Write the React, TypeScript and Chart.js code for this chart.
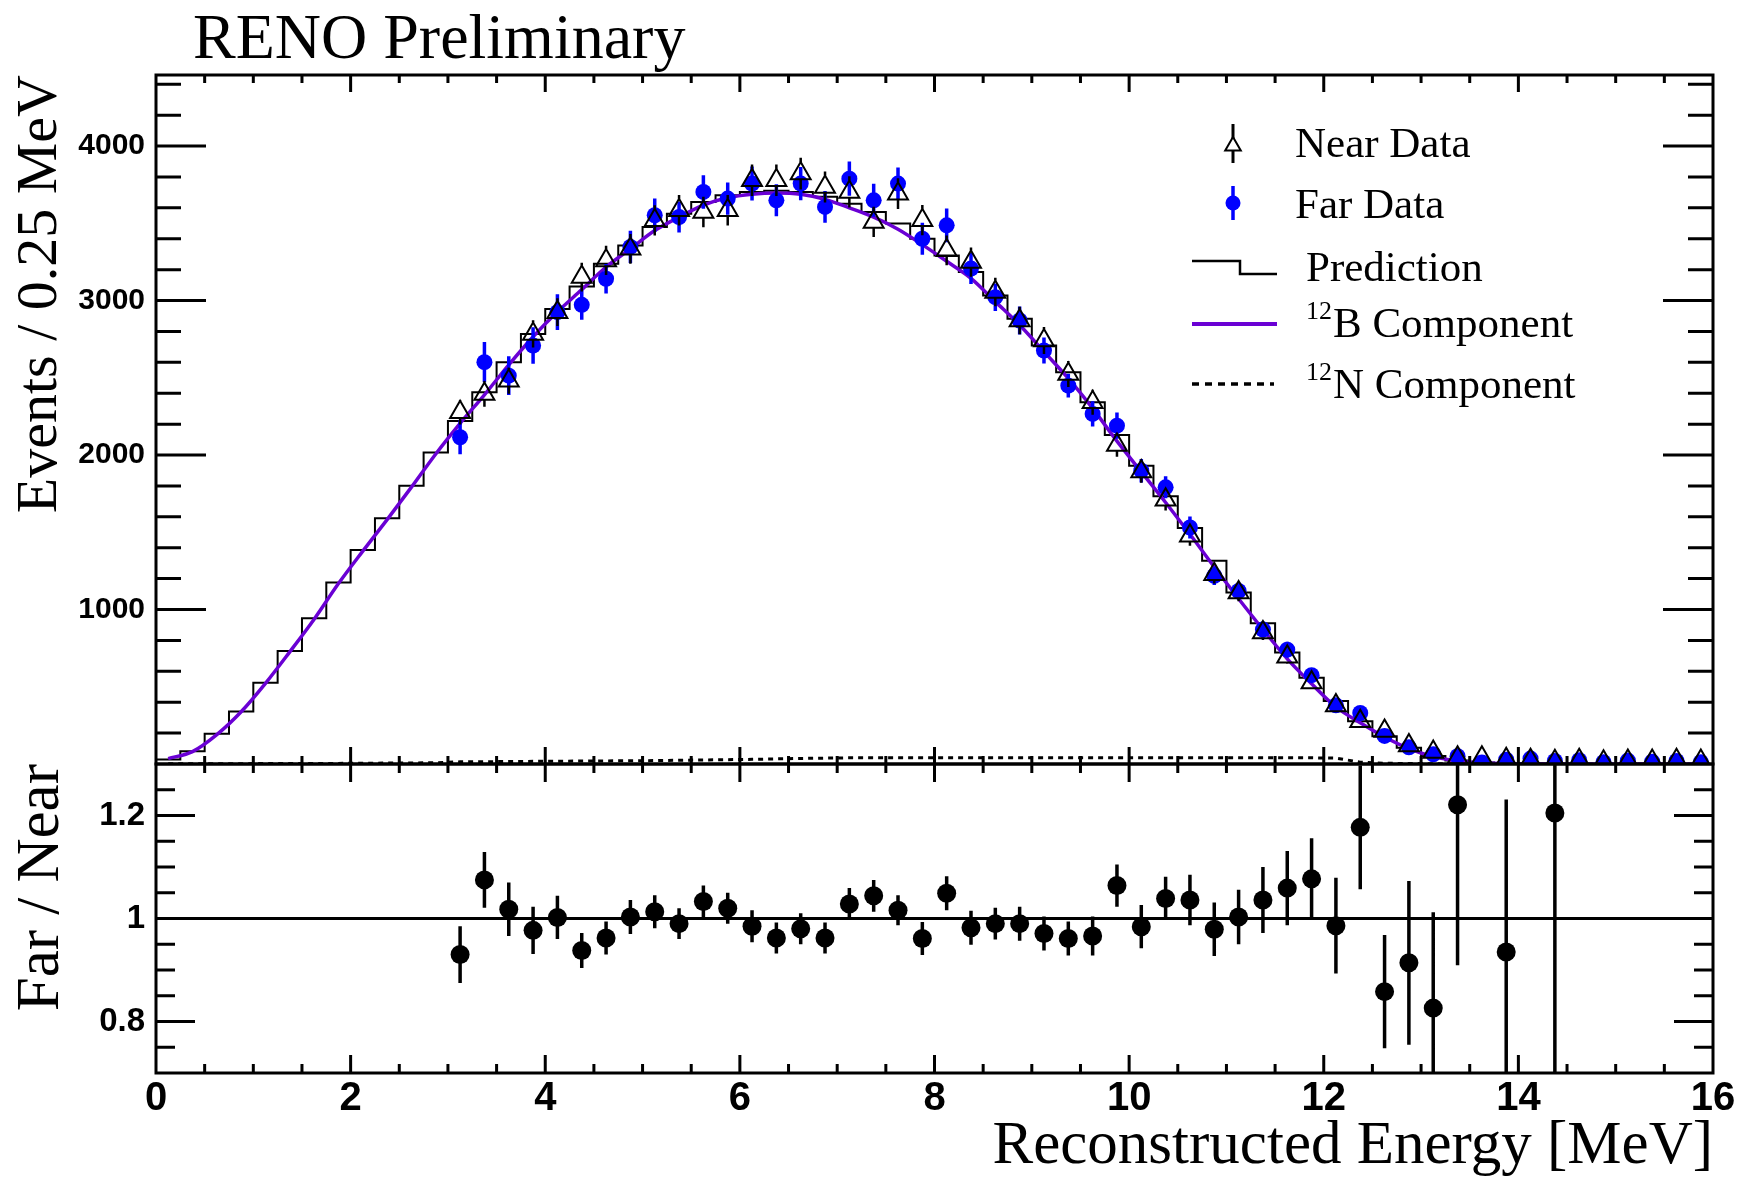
import React, { useEffect, useRef } from 'react';
import { Chart, registerables } from 'chart.js';

Chart.register(...registerables);

// ---------------- data ----------------
const binCenters = [
  0.125, 0.375, 0.625, 0.875, 1.125, 1.375, 1.625, 1.875,
  2.125, 2.375, 2.625, 2.875, 3.125, 3.375, 3.625, 3.875,
  4.125, 4.375, 4.625, 4.875, 5.125, 5.375, 5.625, 5.875,
  6.125, 6.375, 6.625, 6.875, 7.125, 7.375, 7.625, 7.875,
  8.125, 8.375, 8.625, 8.875, 9.125, 9.375, 9.625, 9.875,
  10.125, 10.375, 10.625, 10.875, 11.125, 11.375, 11.625, 11.875,
  12.125, 12.375, 12.625, 12.875, 13.125, 13.375, 13.625, 13.875,
  14.125, 14.375, 14.625, 14.875, 15.125, 15.375, 15.625, 15.875,
];
const binHalfWidth = 0.125;
const energyMax = 16;

const predictionCounts = [
  29, 83, 196, 340, 526, 731, 943, 1175,
  1386, 1590, 1801, 2017, 2220, 2406, 2601, 2784,
  2946, 3091, 3238, 3357, 3476, 3562, 3638, 3681,
  3703, 3710, 3703, 3672, 3627, 3573, 3498, 3400,
  3292, 3184, 3033, 2882, 2709, 2536, 2342, 2130,
  1931, 1733, 1527, 1315, 1110, 911, 721, 559,
  407, 277, 180, 105, 51, 22, 10, 5,
  2, 1, 0, 0, 0, 0, 0, 0,
];

const b12Component = [
  35, 80, 190, 338, 522, 726, 937, 1168,
  1378, 1582, 1792, 2007, 2205, 2390, 2584, 2766,
  2927, 3071, 3217, 3335, 3453, 3540, 3618, 3665,
  3688, 3696, 3688, 3655, 3600, 3540, 3462, 3362,
  3254, 3144, 2993, 2842, 2669, 2496, 2302, 2090,
  1891, 1693, 1487, 1275, 1070, 871, 681, 519,
  369, 267, 175, 100, 48, 20, 8, 3,
  1, 0, 0, 0, 0, 0, 0, 0,
];

const n12Component = [
  1, 1, 2, 2, 3, 3, 4, 4, 5, 6, 7, 8,
  14, 15, 16, 17, 18, 19, 20, 21, 22, 24, 26, 28,
  30, 33, 36, 38, 40, 40, 40, 40, 40, 40, 40, 40,
  40, 40, 40, 40, 40, 40, 40, 40, 40, 40, 40, 40,
  38, 12, 5, 3, 2, 1, 1, 0, 0, 0, 0, 0, 0, 0, 0, 0,
];

const dataCenters = [
  3.125, 3.375, 3.625, 3.875, 4.125, 4.375, 4.625, 4.875,
  5.125, 5.375, 5.625, 5.875, 6.125, 6.375, 6.625, 6.875,
  7.125, 7.375, 7.625, 7.875, 8.125, 8.375, 8.625, 8.875,
  9.125, 9.375, 9.625, 9.875, 10.125, 10.375, 10.625, 10.875,
  11.125, 11.375, 11.625, 11.875, 12.125, 12.375, 12.625, 12.875,
  13.125, 13.375, 13.625, 13.875, 14.125, 14.375, 14.625, 14.875,
  15.125, 15.375, 15.625, 15.875,
];

const nearData = [
  2277, 2395, 2481, 2784, 2925, 3152, 3260, 3335,
  3519, 3584, 3573, 3584, 3778, 3778, 3822, 3735,
  3703, 3509, 3692, 3520, 3325, 3249, 3055, 2871,
  2741, 2525, 2342, 2065, 1893, 1710, 1477, 1228,
  1110, 851, 695, 527, 379, 277, 213, 120,
  77, 40, 40, 30, 25, 17, 25, 15,
  20, 20, 25, 20,
];
const nearErr = [
  80, 82, 84, 88, 90, 93, 95, 96,
  98, 99, 99, 99, 102, 102, 103, 101,
  101, 98, 100, 98, 96, 95, 92, 89,
  87, 84, 81, 76, 73, 69, 64, 59,
  56, 49, 44, 38, 32, 28, 24, 18,
  15, 11, 11, 9, 8, 7, 8, 6,
  7, 7, 8, 7,
];

const farData = [
  2115, 2601, 2514, 2709, 2925, 2972, 3141, 3347,
  3552, 3541, 3703, 3660, 3757, 3649, 3757, 3606,
  3789, 3649, 3757, 3400, 3487, 3207, 3022, 2871,
  2676, 2449, 2266, 2190, 1899, 1791, 1531, 1218,
  1120, 870, 740, 575, 380, 330, 182, 108,
  63, 50, 10, 28, 35, 20, 25, 12,
  22, 15, 20, 12,
];
const farErr = [
  110, 130, 125, 118, 115, 96, 95, 104,
  108, 100, 108, 104, 110, 104, 107, 103,
  111, 107, 104, 103, 109, 100, 89, 90,
  84, 77, 82, 85, 76, 71, 71, 60,
  57, 52, 51, 44, 34, 38, 19, 16,
  12, 11, 6, 9, 9, 7, 8, 5,
  7, 6, 7, 5,
];

const ratioCenters = [
  3.125, 3.375, 3.625, 3.875, 4.125, 4.375, 4.625, 4.875,
  5.125, 5.375, 5.625, 5.875, 6.125, 6.375, 6.625, 6.875,
  7.125, 7.375, 7.625, 7.875, 8.125, 8.375, 8.625, 8.875,
  9.125, 9.375, 9.625, 9.875, 10.125, 10.375, 10.625, 10.875,
  11.125, 11.375, 11.625, 11.875, 12.125, 12.375, 12.625, 12.875,
  13.125, 13.375, 13.625, 13.875, 14.125, 14.375,
];
const ratioValues: (number | null)[] = [
  0.930, 1.075, 1.018, 0.977, 1.002, 0.938, 0.962, 1.003,
  1.013, 0.990, 1.033, 1.020, 0.985, 0.962, 0.980, 0.962,
  1.028, 1.044, 1.016, 0.961, 1.049, 0.982, 0.990, 0.990,
  0.971, 0.961, 0.966, 1.064, 0.984, 1.039, 1.036, 0.979,
  1.003, 1.036, 1.059, 1.077, 0.986, 1.177, 0.858, 0.914,
  0.826, 1.221, null, 0.935, null, 1.205,
];
const ratioErr: (number | null)[] = [
  0.055, 0.054, 0.052, 0.046, 0.042, 0.034, 0.032, 0.033,
  0.032, 0.030, 0.031, 0.030, 0.031, 0.030, 0.030, 0.030,
  0.031, 0.031, 0.029, 0.032, 0.033, 0.033, 0.031, 0.033,
  0.033, 0.033, 0.038, 0.041, 0.042, 0.042, 0.049, 0.052,
  0.053, 0.064, 0.072, 0.079, 0.093, 0.120, 0.110, 0.159,
  0.186, 0.312, null, 0.296, null, 0.550,
];

const unityX = [0, 16];
const unityY = [1, 1];

const energyTicks = [0, 2, 4, 6, 8, 10, 12, 14, 16];
const countTicks = [1000, 2000, 3000, 4000];
const ratioTicks = [0.8, 1.0, 1.2];

const titleText = 'RENO Preliminary';
const yTitleTop = 'Events / 0.25 MeV';
const yTitleBottom = 'Far / Near';
const xTitle = 'Reconstructed Energy [MeV]';
const legendNear = 'Near Data';
const legendFar = 'Far Data';
const legendPred = 'Prediction';
const legendB = ['12', 'B Component'];
const legendN = ['12', 'N Component'];

// ---------------- styles ----------------
const SERIF = "'Liberation Serif', 'Times New Roman', serif";
const SANS = "'Liberation Sans', Arial, sans-serif";
const PURPLE = '#6a00d4';
const BLUE = '#0000ff';

// ---------------- plugins ----------------
const errorBarPlugin = {
  id: 'errorBars',
  beforeDatasetDraw(chart: any, args: any) {
    const ds: any = chart.data.datasets[args.index];
    if (!ds.errorBar) return;
    const meta = args.meta;
    const ys = chart.scales[meta.yAxisID];
    const { ctx, chartArea } = chart;
    ctx.save();
    ctx.beginPath();
    ctx.rect(chartArea.left, chartArea.top, chartArea.right - chartArea.left, chartArea.bottom - chartArea.top);
    ctx.clip();
    ctx.strokeStyle = ds.errorBar.color;
    ctx.lineWidth = ds.errorBar.width;
    ctx.beginPath();
    ds.data.forEach((p: any, i: number) => {
      const el = meta.data[i];
      if (!el || p.y == null || p.e == null) return;
      const x = el.x;
      const yc = ys.getPixelForValue(p.y);
      const yt = ys.getPixelForValue(p.y + p.e);
      const yb = ys.getPixelForValue(p.y - p.e);
      const gt = ds.errorBar.gapTop || 0;
      const gb = ds.errorBar.gapBottom || 0;
      if (yc - gt > yt) { ctx.moveTo(x, yt); ctx.lineTo(x, yc - gt); }
      if (yc + gb < yb) { ctx.moveTo(x, yc + gb); ctx.lineTo(x, yb); }
    });
    ctx.stroke();
    ctx.restore();
  },
};

function makeFramePlugin(o: any) {
  return {
    id: 'rootFrame',
    afterDatasetsDraw(chart: any) {
      const { ctx, chartArea, scales } = chart;
      const { left, right, top, bottom } = chartArea;
      const xs = scales.x;
      const ys = scales.y;
      ctx.save();
      ctx.strokeStyle = '#000';
      ctx.lineWidth = 3;
      ctx.lineCap = 'butt';
      ctx.beginPath();
      const nx = Math.round((xs.max - xs.min) / o.xStep);
      for (let k = 1; k < nx; k++) {
        const v = xs.min + k * o.xStep;
        const major = k % o.xEvery === 0;
        const px = xs.getPixelForValue(v);
        const lb = major ? o.xBottomMajor : o.xBottomMinor;
        const lt = major ? o.xTopMajor : o.xTopMinor;
        ctx.moveTo(px, bottom); ctx.lineTo(px, bottom - lb);
        ctx.moveTo(px, top); ctx.lineTo(px, top + lt);
      }
      const ny = Math.floor((ys.max - o.yStart) / o.yStep + 1e-6);
      for (let k = 0; k <= ny; k++) {
        const v = o.yStart + k * o.yStep;
        if (v <= ys.min + 1e-9 || v >= ys.max - 1e-9) continue;
        const n = Math.round((v - o.yOrigin) / o.yStep);
        const major = ((n % o.yEvery) + o.yEvery) % o.yEvery === 0;
        const py = ys.getPixelForValue(v);
        const l = major ? o.yMajor : o.yMinor;
        ctx.moveTo(left, py); ctx.lineTo(left + l, py);
        ctx.moveTo(right, py); ctx.lineTo(right - l, py);
      }
      ctx.stroke();
      ctx.strokeRect(left, top, right - left, bottom - top);
      ctx.restore();
    },
  };
}

function drawIsotope(ctx: CanvasRenderingContext2D, parts: string[], x: number, y: number) {
  ctx.font = `26px ${SERIF}`;
  ctx.fillText(parts[0], x, y - 18);
  const w = ctx.measureText(parts[0]).width;
  ctx.font = `43px ${SERIF}`;
  ctx.fillText(parts[1], x + w + 1, y);
}

const textPlugin = {
  id: 'renoText',
  afterDraw(chart: any) {
    const ctx: CanvasRenderingContext2D = chart.ctx;
    ctx.save();
    ctx.fillStyle = '#000';
    ctx.textAlign = 'left';
    ctx.textBaseline = 'alphabetic';
    ctx.font = `64px ${SERIF}`;
    ctx.fillText(titleText, 193, 58);

    ctx.font = `43px ${SERIF}`;
    ctx.fillText(legendNear, 1295, 157);
    ctx.fillText(legendFar, 1295, 218);
    ctx.fillText(legendPred, 1306, 281);
    drawIsotope(ctx, legendB, 1306, 337);
    drawIsotope(ctx, legendN, 1306, 398);

    // Near icon
    ctx.strokeStyle = '#000';
    ctx.lineWidth = 3;
    ctx.beginPath();
    ctx.moveTo(1233, 124); ctx.lineTo(1233, 163);
    ctx.stroke();
    const r = 9;
    const cx = 1233, cy = 146;
    ctx.beginPath();
    ctx.moveTo(cx, cy - r);
    ctx.lineTo(cx + r * 0.866, cy + r / 2);
    ctx.lineTo(cx - r * 0.866, cy + r / 2);
    ctx.closePath();
    ctx.fillStyle = '#fff';
    ctx.fill();
    ctx.lineWidth = 2;
    ctx.stroke();

    // Far icon
    ctx.strokeStyle = BLUE;
    ctx.fillStyle = BLUE;
    ctx.lineWidth = 3.5;
    ctx.beginPath();
    ctx.moveTo(1233, 186); ctx.lineTo(1233, 220);
    ctx.stroke();
    ctx.beginPath();
    ctx.arc(1233, 203, 7.5, 0, Math.PI * 2);
    ctx.fill();

    // Prediction icon
    ctx.strokeStyle = '#000';
    ctx.lineWidth = 2.5;
    ctx.beginPath();
    ctx.moveTo(1192, 261); ctx.lineTo(1240, 261); ctx.lineTo(1240, 274); ctx.lineTo(1277, 274);
    ctx.stroke();

    // 12B icon
    ctx.strokeStyle = PURPLE;
    ctx.lineWidth = 4;
    ctx.beginPath();
    ctx.moveTo(1192, 324); ctx.lineTo(1277, 324);
    ctx.stroke();

    // 12N icon
    ctx.strokeStyle = '#000';
    ctx.lineWidth = 3.5;
    ctx.setLineDash([7, 6]);
    ctx.beginPath();
    ctx.moveTo(1192, 384); ctx.lineTo(1274, 384);
    ctx.stroke();
    ctx.setLineDash([]);
    ctx.restore();
  },
};

const fixVertical = (w: number) => (s: any) => {
  s.width = w;
  s.paddingTop = 0;
  s.paddingBottom = 0;
};
const fixHorizontal = (h: number) => (s: any) => {
  s.height = h;
  s.paddingLeft = 0;
  s.paddingRight = 0;
};

// ---------------- configs ----------------
function buildTopConfig(): any {
  const predPoints = binCenters.map((c, i) => ({ x: c - binHalfWidth, y: predictionCounts[i] }));
  predPoints.push({ x: energyMax, y: predictionCounts[predictionCounts.length - 1] });
  const b12Points = binCenters.map((c, i) => ({ x: c, y: b12Component[i] }));
  const n12Points = binCenters.map((c, i) => ({ x: c, y: n12Component[i] }));
  const nearPoints = dataCenters.map((c, i) => ({ x: c, y: nearData[i], e: nearErr[i] }));
  const farPoints = dataCenters.map((c, i) => ({ x: c, y: farData[i], e: farErr[i] }));
  const triR = 11.5;
  return {
    type: 'line',
    data: {
      datasets: [
        {
          label: legendNear, data: nearPoints, showLine: false,
          pointStyle: 'triangle', pointRadius: triR, pointBorderWidth: 2,
          pointBorderColor: '#000', pointBackgroundColor: 'rgba(0,0,0,0)',
          order: 0, errorBar: { color: '#000', width: 2.5, gapTop: triR, gapBottom: triR / 2 },
        },
        {
          label: legendFar, data: farPoints, showLine: false,
          pointStyle: 'circle', pointRadius: 8, pointBorderWidth: 0,
          pointBackgroundColor: BLUE, pointBorderColor: BLUE,
          order: 1, errorBar: { color: BLUE, width: 3.5 },
        },
        {
          label: '12B Component', data: b12Points, borderColor: PURPLE, borderWidth: 3.5,
          pointRadius: 0, cubicInterpolationMode: 'monotone', fill: false, order: 2,
        },
        {
          label: '12N Component', data: n12Points, borderColor: '#000', borderWidth: 3,
          borderDash: [5, 5], pointRadius: 0, fill: false, order: 3,
        },
        {
          label: legendPred, data: predPoints, borderColor: '#000', borderWidth: 2,
          stepped: 'before', pointRadius: 0, fill: false, order: 4,
        },
      ],
    },
    options: {
      animation: false,
      responsive: false,
      devicePixelRatio: 1,
      events: [],
      layout: { autoPadding: false, padding: { left: 0, right: 37, top: 75, bottom: 2 } },
      plugins: { legend: { display: false }, tooltip: { enabled: false }, title: { display: false } },
      scales: {
        x: {
          type: 'linear', min: 0, max: energyMax,
          afterBuildTicks: (s: any) => { s.ticks = energyTicks.map((v) => ({ value: v })); },
          afterFit: fixHorizontal(0),
          ticks: { display: false },
          grid: { display: false, drawTicks: false },
          border: { display: false },
        },
        y: {
          type: 'linear', min: 0, max: 4460,
          afterBuildTicks: (s: any) => { s.ticks = countTicks.map((v) => ({ value: v })); },
          afterFit: fixVertical(156),
          grid: { display: false, drawTicks: false },
          border: { display: false },
          ticks: {
            autoSkip: false, padding: 11, color: '#000',
            font: { family: SANS, weight: 'bold', size: 30 },
            callback: (v: any) => String(v),
          },
          title: {
            display: true, text: yTitleTop, align: 'end', color: '#000',
            font: { family: SERIF, size: 58, lineHeight: 1 },
            padding: { top: 12, bottom: 0 },
          },
        },
      },
    },
    plugins: [
      errorBarPlugin,
      makeFramePlugin({
        xStep: 0.5, xEvery: 4, xBottomMajor: 17, xBottomMinor: 8, xTopMajor: 17, xTopMinor: 8,
        yStart: 0, yStep: 200, yOrigin: 0, yEvery: 5, yMajor: 50, yMinor: 25,
      }),
      textPlugin,
    ],
  };
}

function buildBottomConfig(): any {
  const ratioPoints: any[] = [];
  ratioCenters.forEach((c, i) => {
    if (ratioValues[i] != null) ratioPoints.push({ x: c, y: ratioValues[i], e: ratioErr[i] });
  });
  const unityPoints = unityX.map((x, i) => ({ x, y: unityY[i] }));
  return {
    type: 'line',
    data: {
      datasets: [
        {
          label: 'Far / Near', data: ratioPoints, showLine: false,
          pointStyle: 'circle', pointRadius: 9.5, pointBorderWidth: 0,
          pointBackgroundColor: '#000', pointBorderColor: '#000',
          order: 0, errorBar: { color: '#000', width: 3.5 },
        },
        {
          label: 'unity', data: unityPoints, borderColor: '#000', borderWidth: 3,
          pointRadius: 0, fill: false, order: 1,
        },
      ],
    },
    options: {
      animation: false,
      responsive: false,
      devicePixelRatio: 1,
      events: [],
      layout: { autoPadding: false, padding: { left: 0, right: 37, top: 2, bottom: 0 } },
      plugins: { legend: { display: false }, tooltip: { enabled: false }, title: { display: false } },
      scales: {
        x: {
          type: 'linear', min: 0, max: energyMax,
          afterBuildTicks: (s: any) => { s.ticks = energyTicks.map((v) => ({ value: v })); },
          afterFit: fixHorizontal(104),
          grid: { display: false, drawTicks: false },
          border: { display: false },
          ticks: {
            autoSkip: false, maxRotation: 0, padding: 2, color: '#000',
            font: { family: SANS, weight: 'bold', size: 40 },
            callback: (v: any) => String(v),
          },
          title: {
            display: true, text: xTitle, align: 'end', color: '#000',
            font: { family: SERIF, size: 61, lineHeight: 1 },
            padding: { top: 0, bottom: 0 },
          },
        },
        y: {
          type: 'linear', min: 0.7, max: 1.3,
          afterBuildTicks: (s: any) => { s.ticks = ratioTicks.map((v) => ({ value: v })); },
          afterFit: fixVertical(156),
          grid: { display: false, drawTicks: false },
          border: { display: false },
          ticks: {
            autoSkip: false, padding: 11, color: '#000',
            font: { family: SANS, weight: 'bold', size: 33 },
            callback: (v: any) => (Math.abs(v - 1) < 1e-9 ? '1' : Number(v).toFixed(1)),
          },
          title: {
            display: true, text: yTitleBottom, align: 'end', color: '#000',
            font: { family: SERIF, size: 61, lineHeight: 1 },
            padding: { top: 11, bottom: 0 },
          },
        },
      },
    },
    plugins: [
      errorBarPlugin,
      makeFramePlugin({
        xStep: 0.5, xEvery: 4, xBottomMajor: 18, xBottomMinor: 9, xTopMajor: 18, xTopMinor: 9,
        yStart: 0.7, yStep: 0.05, yOrigin: 0.8, yEvery: 4, yMajor: 39, yMinor: 19,
      }),
    ],
  };
}

export default function App() {
  const topRef = useRef<HTMLCanvasElement>(null);
  const botRef = useRef<HTMLCanvasElement>(null);
  useEffect(() => {
    const top = new Chart(topRef.current as HTMLCanvasElement, buildTopConfig());
    const bot = new Chart(botRef.current as HTMLCanvasElement, buildBottomConfig());
    return () => {
      top.destroy();
      bot.destroy();
    };
  }, []);
  return (
    <div style={{ position: 'absolute', left: 0, top: 0, width: 1750, height: 1177, background: '#fff', overflow: 'hidden' }}>
      <canvas ref={topRef} width={1750} height={766} style={{ position: 'absolute', left: 0, top: 0 }} />
      <canvas ref={botRef} width={1750} height={415} style={{ position: 'absolute', left: 0, top: 762 }} />
    </div>
  );
}
